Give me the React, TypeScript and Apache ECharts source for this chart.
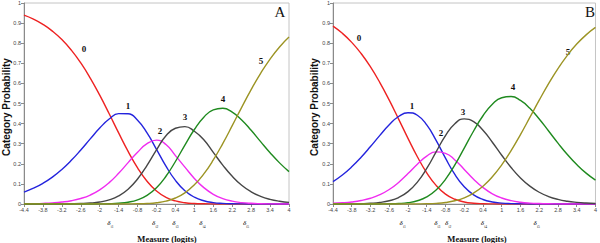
import { useEffect, useRef } from "react";
import * as echarts from "echarts";

const X_MIN = -4.4;
const X_MAX = 4;
const X_STEP = 0.6;

const THETA = [-4.4, -4.1, -3.8, -3.5, -3.2, -2.9, -2.6, -2.3, -2.0, -1.7, -1.4, -1.1, -0.8, -0.5, -0.2, 0.1, 0.4, 0.7, 1.0, 1.3, 1.6, 1.9, 2.2, 2.5, 2.8, 3.1, 3.4, 3.7, 4.0];

const A_P0 = [0.9395, 0.9196, 0.8937, 0.8603, 0.8181, 0.7654, 0.7016, 0.6265, 0.5413, 0.4488, 0.3536, 0.2619, 0.1799, 0.1131, 0.0645, 0.033, 0.0152, 0.0064, 0.0024, 0.0009, 0.0003, 0.0001, 0, 0, 0, 0, 0, 0, 0];
const A_P1 = [0.0595, 0.0785, 0.103, 0.1339, 0.1719, 0.2171, 0.2687, 0.3238, 0.3776, 0.4227, 0.4496, 0.4493, 0.4167, 0.3538, 0.2721, 0.1883, 0.1172, 0.066, 0.034, 0.0161, 0.0071, 0.0029, 0.0011, 0.0004, 0.0002, 0.0001, 0, 0, 0];
const A_P2 = [0.001, 0.0018, 0.0032, 0.0056, 0.0097, 0.0164, 0.0275, 0.0447, 0.0704, 0.1063, 0.1527, 0.206, 0.2578, 0.3, 0.318, 0.296, 0.2409, 0.1832, 0.1271, 0.0813, 0.0484, 0.027, 0.0142, 0.0071, 0.0034, 0.0016, 0.0007, 0.0003, 0.0001];
const A_P3 = [0, 0, 0.0001, 0.0002, 0.0004, 0.001, 0.0022, 0.0048, 0.0102, 0.0208, 0.0404, 0.0735, 0.1242, 0.1922, 0.2693, 0.3396, 0.377, 0.385, 0.362, 0.32, 0.257, 0.1935, 0.1377, 0.0933, 0.0606, 0.038, 0.0231, 0.0138, 0.008];
const A_P4 = [0, 0, 0, 0, 0, 0, 0.0001, 0.0002, 0.0005, 0.0014, 0.0037, 0.009, 0.0205, 0.0429, 0.0811, 0.1381, 0.2115, 0.2931, 0.3707, 0.432, 0.4683, 0.476, 0.4573, 0.4182, 0.3666, 0.3102, 0.2549, 0.2046, 0.1612];
const A_P5 = [0, 0, 0, 0, 0, 0, 0, 0, 0, 0, 0.0001, 0.0003, 0.0009, 0.0025, 0.0063, 0.0144, 0.0298, 0.0557, 0.0952, 0.1497, 0.219, 0.3005, 0.3896, 0.481, 0.5692, 0.6502, 0.7212, 0.7814, 0.8307];

const B_P0 = [0.8849, 0.8492, 0.8042, 0.7487, 0.682, 0.6041, 0.5166, 0.4224, 0.3265, 0.2351, 0.1552, 0.0925, 0.0494, 0.0236, 0.0102, 0.004, 0.0015, 0.0005, 0.0002, 0, 0, 0, 0, 0, 0, 0, 0, 0, 0];
const B_P1 = [0.1117, 0.1446, 0.1849, 0.2324, 0.2858, 0.3416, 0.3943, 0.4353, 0.4541, 0.4414, 0.3933, 0.3166, 0.2281, 0.147, 0.0855, 0.0454, 0.0223, 0.0102, 0.0044, 0.0018, 0.0007, 0.0003, 0.0001, 0, 0, 0, 0, 0, 0];
const B_P2 = [0.0034, 0.0059, 0.0102, 0.0173, 0.0286, 0.0462, 0.0721, 0.1073, 0.1512, 0.1983, 0.2386, 0.2592, 0.2521, 0.2193, 0.1721, 0.1234, 0.0818, 0.0508, 0.0297, 0.0165, 0.0087, 0.0044, 0.0022, 0.001, 0.0005, 0.0002, 0.0001, 0, 0];
const B_P3 = [0.0001, 0.0003, 0.0007, 0.0016, 0.0035, 0.0076, 0.0161, 0.0323, 0.0614, 0.1088, 0.1767, 0.2592, 0.3403, 0.3996, 0.4233, 0.4096, 0.3667, 0.3071, 0.2424, 0.1816, 0.1297, 0.0887, 0.0584, 0.0371, 0.0229, 0.0138, 0.0082, 0.0047, 0.0027];
const B_P4 = [0, 0, 0, 0, 0.0001, 0.0003, 0.001, 0.0026, 0.0067, 0.016, 0.035, 0.0693, 0.1227, 0.1945, 0.2781, 0.3633, 0.439, 0.4962, 0.5288, 0.5346, 0.5154, 0.4759, 0.4229, 0.3631, 0.3028, 0.2462, 0.1962, 0.1537, 0.1189];
const B_P5 = [0, 0, 0, 0, 0, 0, 0, 0, 0.0001, 0.0004, 0.0012, 0.0031, 0.0075, 0.016, 0.0308, 0.0544, 0.0886, 0.1352, 0.1945, 0.2655, 0.3455, 0.4306, 0.5165, 0.5987, 0.6738, 0.7397, 0.7956, 0.8415, 0.8784];

const CATEGORIES = ["0", "1", "2", "3", "4", "5"];
const COLORS = ["#ee2222", "#2424dd", "#f02cf0", "#464646", "#1f8a1f", "#9c9424"];

const PANEL_A = [A_P0, A_P1, A_P2, A_P3, A_P4, A_P5];
const PANEL_B = [B_P0, B_P1, B_P2, B_P3, B_P4, B_P5];

// threshold markers under the axis (logit positions + subscripts)
const DELTA_A_POS = [-1.71, -0.29, 0.35, 1.21, 2.59];
const DELTA_A_SUB = ["i1", "i2", "i3", "i4", "i5"];
const DELTA_B_POS = [-2.22, -1.11, -0.76, 0.38, 2.07];
const DELTA_B_SUB = ["i1", "i3", "i2", "i4", "i5"];

// curve number label positions (pixels)
const LABELS_A = [[84, 49], [128, 106], [160, 131], [185, 117], [223, 99], [261, 61]];
const LABELS_B = [[359, 38], [412, 106], [441, 133], [463, 112], [513, 87], [568, 52]];

export default function App() {
  const ref = useRef<HTMLDivElement>(null);

  useEffect(() => {
    const chart = echarts.init(ref.current!, null, { renderer: "svg", width: 600, height: 243 });

    const fmtX = (v: number) => String(Math.round((v + X_MIN) * 10) / 10);
    const fmtY = (v: number) => String(Math.round(v * 10) / 10);

    const mkX = (gi: number) => ({
      type: "value",
      gridIndex: gi,
      min: 0,
      max: X_MAX - X_MIN,
      interval: X_STEP,
      axisLine: { show: true, lineStyle: { color: "#8a8a8a", width: 1 } },
      axisTick: { show: true, length: 3, lineStyle: { color: "#8a8a8a" } },
      axisLabel: { fontSize: 5.5, color: "#444", margin: 3, formatter: fmtX, fontFamily: "Liberation Sans" },
      splitLine: { show: false },
    });
    const mkY = (gi: number) => ({
      type: "value",
      gridIndex: gi,
      min: 0,
      max: 1,
      interval: 0.1,
      axisLine: { show: true, lineStyle: { color: "#8a8a8a", width: 1 } },
      axisTick: { show: true, length: 3, lineStyle: { color: "#8a8a8a" } },
      axisLabel: { fontSize: 5.5, color: "#444", margin: 3, formatter: fmtY, fontFamily: "Liberation Sans" },
      splitLine: { show: false },
    });

    const series: any[] = [];
    [PANEL_A, PANEL_B].forEach((panel, gi) => {
      panel.forEach((vals, k) => {
        series.push({
          type: "line",
          name: CATEGORIES[k],
          xAxisIndex: gi,
          yAxisIndex: gi,
          data: THETA.map((t, i) => [t - X_MIN, vals[i]]),
          smooth: true,
          showSymbol: false,
          symbol: "none",
          lineStyle: { color: COLORS[k], width: 1.4 },
          z: 2 + k,
        });
      });
    });

    chart.setOption({
      animation: false,
      backgroundColor: "#ffffff",
      grid: [
        { left: 24, top: 2, width: 265, height: 202, show: true, borderColor: "#c4c4c4", borderWidth: 1 },
        { left: 333, top: 2, width: 265, height: 202, show: true, borderColor: "#c4c4c4", borderWidth: 1 },
      ],
      xAxis: [mkX(0), mkX(1)],
      yAxis: [mkY(0), mkY(1)],
      series,
    });

    const txt = (x: number, y: number, text: string, font: string, extra: any = {}) => ({
      type: "text",
      x,
      y,
      silent: true,
      ...extra,
      style: {
        text,
        font,
        fill: "#111",
        align: "center",
        verticalAlign: "middle",
        textAlign: "center",
        textVerticalAlign: "middle",
      },
    });

    const graphics: any[] = [];
    graphics.push(txt(6, 107, "Category Probability", 'bold 10px "Liberation Sans", Arial', { rotation: Math.PI / 2 }));
    graphics.push(txt(314, 107, "Category Probability", 'bold 10px "Liberation Sans", Arial', { rotation: Math.PI / 2 }));
    graphics.push(txt(167, 239, "Measure (logits)", 'bold 8.6px "Liberation Serif", "Times New Roman"'));
    graphics.push(txt(477, 239, "Measure (logits)", 'bold 8.6px "Liberation Serif", "Times New Roman"'));
    graphics.push(txt(280, 12, "A", '15px "Liberation Serif", "Times New Roman"'));
    graphics.push(txt(590, 12, "B", '15px "Liberation Serif", "Times New Roman"'));

    LABELS_A.forEach(([x, y], k) => graphics.push(txt(x, y, CATEGORIES[k], 'bold 9px "Liberation Serif", "Times New Roman"')));
    LABELS_B.forEach(([x, y], k) => graphics.push(txt(x, y, CATEGORIES[k], 'bold 9px "Liberation Serif", "Times New Roman"')));

    const addDeltas = (pos: number[], subs: string[], gi: number) => {
      pos.forEach((p, i) => {
        const px = chart.convertToPixel({ xAxisIndex: gi } as any, p - X_MIN) as unknown as number;
        graphics.push(txt(px, 222.5, "δ", 'italic 7px "Liberation Serif", "Times New Roman"'));
        graphics.push(txt(px + 3.2, 226.5, subs[i], '3.6px "Liberation Serif", "Times New Roman"'));
      });
    };
    addDeltas(DELTA_A_POS, DELTA_A_SUB, 0);
    addDeltas(DELTA_B_POS, DELTA_B_SUB, 1);

    chart.setOption({ graphic: graphics });

    return () => chart.dispose();
  }, []);

  return (
    <div
      ref={ref}
      style={{ position: "fixed", left: 0, top: 0, width: 600, height: 243, background: "#fff" }}
    />
  );
}
